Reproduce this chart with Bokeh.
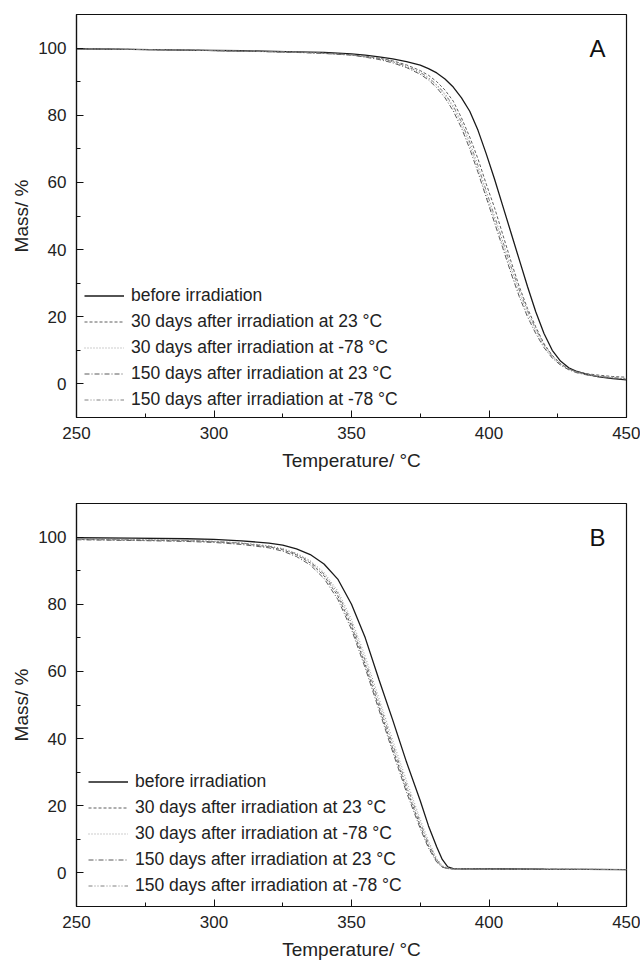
from bokeh.plotting import figure
from bokeh.layouts import column
from bokeh.models import FixedTicker, Label, Range1d
from bokeh.embed import file_html
from bokeh.resources import INLINE

FONT = "Liberation Sans"

labels = [
    "before irradiation",
    "30 days after irradiation at 23 \u00b0C",
    "30 days after irradiation at -78 \u00b0C",
    "150 days after irradiation at 23 \u00b0C",
    "150 days after irradiation at -78 \u00b0C",
]

# ---- Panel A ----
temp_a = [250, 270, 290, 310, 330, 340, 350, 355, 360, 365, 370, 375, 378, 381, 384, 387, 390, 393,
          396, 399, 402, 405, 408, 411, 414, 417, 420, 423, 426, 429, 432, 436, 440, 445, 450]
a_before = [99.8, 99.6, 99.4, 99.2, 98.9, 98.7, 98.3, 97.9, 97.4, 96.8, 96.0, 94.9, 93.9, 92.6, 90.8, 88.4, 85.2, 81.2,
            75.5, 68.5, 61.0, 53.0, 45.0, 37.0, 29.0, 21.5, 15.0, 10.0, 6.8, 4.8, 3.7, 2.8, 2.1, 1.6, 1.2]
a_30d_23 = [99.8, 99.6, 99.4, 99.1, 98.8, 98.5, 98.0, 97.6, 97.0, 96.2, 95.0, 93.3, 91.9, 90.0, 87.5, 84.2, 79.2, 73.5,
            67.0, 59.5, 52.5, 44.5, 36.5, 29.0, 22.5, 17.0, 12.0, 8.5, 6.0, 4.5, 3.6, 3.0, 2.6, 2.2, 2.0]
a_30d_m78 = [99.8, 99.6, 99.4, 99.1, 98.8, 98.4, 97.9, 97.4, 96.8, 95.9, 94.5, 92.6, 90.9, 88.8, 86.0, 82.3, 77.2, 71.0,
             64.0, 56.5, 49.0, 41.5, 34.0, 27.0, 21.0, 15.8, 11.3, 8.0, 5.8, 4.3, 3.4, 2.7, 2.2, 1.8, 1.5]
a_150d_23 = [99.8, 99.6, 99.4, 99.1, 98.7, 98.4, 97.9, 97.3, 96.6, 95.6, 94.2, 92.2, 90.5, 88.2, 85.2, 81.3, 76.2, 70.0,
             63.0, 55.5, 48.0, 40.5, 33.0, 26.0, 20.0, 15.0, 10.8, 7.7, 5.6, 4.2, 3.3, 2.6, 2.1, 1.7, 1.4]
a_150d_m78 = [99.8, 99.6, 99.4, 99.1, 98.8, 98.5, 98.0, 97.4, 96.9, 96.0, 94.6, 92.8, 91.2, 89.1, 86.4, 82.8, 78.0, 72.0,
              65.0, 57.5, 50.0, 42.5, 35.0, 28.0, 21.8, 16.4, 11.7, 8.3, 6.0, 4.5, 3.5, 2.8, 2.3, 1.9, 1.6]

# ---- Panel B ----
temp_b = [250, 270, 290, 300, 310, 320, 325, 330, 335, 340, 345, 350, 355, 360, 365, 370, 375, 378,
          381, 383, 385, 387, 390, 400, 420, 450]
b_before = [99.8, 99.7, 99.5, 99.3, 98.9, 98.2, 97.6, 96.5, 94.8, 92.0, 87.5, 80.0, 70.0, 57.5, 45.5, 33.0, 21.5, 14.0,
            7.7, 4.0, 1.8, 1.3, 1.2, 1.2, 1.1, 1.0]
b_30d_23 = [99.3, 99.1, 98.9, 98.6, 98.1, 97.1, 96.2, 94.7, 92.3, 88.5, 82.5, 73.5, 62.0, 49.5, 37.0, 25.0, 14.0, 8.0,
            3.5, 1.8, 1.3, 1.2, 1.2, 1.1, 1.1, 1.0]
b_30d_m78 = [99.5, 99.3, 99.1, 98.8, 98.3, 97.4, 96.6, 95.2, 93.0, 89.5, 84.0, 75.5, 64.5, 52.0, 39.5, 27.5, 16.0, 9.5,
             4.3, 2.2, 1.4, 1.2, 1.2, 1.1, 1.1, 1.0]
b_150d_23 = [99.2, 99.0, 98.7, 98.4, 97.8, 96.8, 95.8, 94.2, 91.7, 87.7, 81.5, 72.5, 61.0, 48.5, 36.0, 24.0, 13.2, 7.4,
             3.2, 1.7, 1.3, 1.2, 1.2, 1.1, 1.1, 1.0]
b_150d_m78 = [99.4, 99.2, 99.0, 98.7, 98.2, 97.3, 96.4, 95.0, 92.7, 89.0, 83.3, 74.5, 63.2, 50.8, 38.2, 26.2, 15.0, 8.8,
              3.9, 2.0, 1.3, 1.2, 1.2, 1.1, 1.1, 1.0]

x_ticks = [250, 300, 350, 400, 450]
x_minor = [275, 325, 375, 425]
y_ticks = [0, 20, 40, 60, 80, 100]
y_minor = [-10, 10, 30, 50, 70, 90, 110]

styles = [
    dict(color="#1a1a1a", line_width=1.3, line_dash="solid"),
    dict(color="#5e5e5e", line_width=1.0, line_dash="3 2"),
    dict(color="#9a9a9a", line_width=1.0, line_dash="1 2"),
    dict(color="#5a5a5a", line_width=1.0, line_dash="5 2 1 2"),
    dict(color="#808080", line_width=1.0, line_dash="4 2 1 2 1 2"),
]


def make_panel(temps, series, letter, height, top, bottom, legend_loc):
    p = figure(width=640, height=height, output_backend="svg", toolbar_location=None,
               x_range=Range1d(250, 450), y_range=Range1d(-10, 110),
               min_border_left=76, min_border_right=14, min_border_top=top, min_border_bottom=bottom)
    p.grid.visible = False
    p.outline_line_color = "#111111"
    p.outline_line_width = 1.2
    p.background_fill_color = "white"
    p.border_fill_color = "white"

    for vals, lab, st in zip(series, labels, styles):
        p.line(temps, vals, legend_label=lab, line_color=st["color"], line_width=st["line_width"],
               line_dash=st["line_dash"])

    for ax in (p.xaxis[0], p.yaxis[0]):
        ax.axis_line_color = "#111111"
        ax.axis_line_width = 1.2
        ax.major_tick_in = 7
        ax.major_tick_out = 0
        ax.minor_tick_in = 4
        ax.minor_tick_out = 0
        ax.major_tick_line_color = "#111111"
        ax.minor_tick_line_color = "#111111"
        ax.major_label_text_font = FONT
        ax.major_label_text_font_size = "17px"
        ax.major_label_text_color = "#222222"
        ax.axis_label_text_font = FONT
        ax.axis_label_text_font_size = "19px"
        ax.axis_label_text_font_style = "normal"
        ax.axis_label_text_color = "#222222"

    p.xaxis.ticker = FixedTicker(ticks=x_ticks, minor_ticks=x_minor)
    p.yaxis.ticker = FixedTicker(ticks=y_ticks, minor_ticks=y_minor)
    p.xaxis.axis_label = "Temperature/ \u00b0C"
    p.yaxis.axis_label = "Mass/ %"
    p.xaxis.major_label_standoff = 9
    p.xaxis.axis_label_standoff = 8
    p.yaxis.major_label_standoff = 10
    p.yaxis.axis_label_standoff = 3

    lg = p.legend[0]
    lg.location = legend_loc
    lg.background_fill_alpha = 0
    lg.border_line_alpha = 0
    lg.padding = 0
    lg.margin = 0
    lg.spacing = 3
    lg.label_height = 23
    lg.glyph_height = 23
    lg.glyph_width = 40
    lg.label_standoff = 7
    lg.label_text_font = FONT
    lg.label_text_font_size = "17.5px"
    lg.label_text_color = "#222222"

    p.add_layout(Label(x=439.5, y=100, text=letter, text_font=FONT, text_font_size="24px",
                       text_align="center", text_baseline="middle", text_color="#111111"))
    return p


pa = make_panel(temp_a, [a_before, a_30d_23, a_30d_m78, a_150d_23, a_150d_m78], "A",
                480, 14, 63, (8, 6))
pb = make_panel(temp_b, [b_before, b_30d_23, b_30d_m78, b_150d_23, b_150d_m78], "B",
                482, 23, 56, (12, 9))

layout = column(pa, pb, spacing=0)
open("out.html", "w").write(file_html(layout, INLINE))
